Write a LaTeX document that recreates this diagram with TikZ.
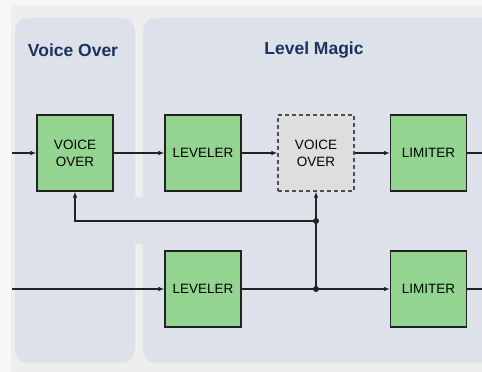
\documentclass[tikz,border=0pt]{standalone}
\usepackage{fontspec}
\setmainfont{Liberation Sans}
\usetikzlibrary{arrows.meta,positioning}
\definecolor{paper}{RGB}{247,247,247}
\definecolor{frame}{RGB}{238,238,238}
\definecolor{panel}{RGB}{221,225,233}
\definecolor{navy}{RGB}{28,50,96}
\definecolor{leaf}{RGB}{147,213,144}
\definecolor{mist}{RGB}{222,222,222}
\definecolor{ink}{RGB}{34,34,34}
\tikzset{
  >={Latex[length=6pt,width=4.5pt]},
  block/.style={draw=ink,fill=#1,line width=1.2pt,minimum width=76pt,minimum height=76pt,
    inner sep=0pt,align=center,font=\fontsize{13.5}{17}\selectfont},
  block/.default=leaf,
  ghost/.style={block=mist,draw=ink!80,dash pattern=on 4pt off 3pt},
  flow/.style={->,line width=1.1pt,draw=ink},
  wire/.style={line width=1.1pt,draw=ink},
  title/.style={font=\fontsize{17.5}{20}\selectfont\bfseries,text=navy},
  dot/.style={circle,fill=ink,inner sep=0pt,minimum size=6pt},
}
\begin{document}
\begin{tikzpicture}[x=1pt,y=-1pt]
  \useasboundingbox (0,0) rectangle (482,372);
  % backdrop and panels
  \fill[paper] (0,0) rectangle (482,372);
  \fill[frame] (11,5) rectangle (482,372);
  \begin{scope}
    \clip (0,0) rectangle (482,372);
    \fill[panel,rounded corners=13pt] (15,18) rectangle (135,363);
    \fill[panel,rounded corners=13pt] (143,18) rectangle (496,363);
    \fill[panel] (130,197) rectangle (148,244);
  \end{scope}
  \node[title] (tvo) at (73,50) {Voice Over};
  \node[title] (tlm) at (314,50) {Level Magic};
  % blocks
  \node[block] (vo) at (75,153) {VOICE\\OVER};
  \node[block] (lev) at (203,153) {LEVELER};
  \node[ghost] (vox) at (316,153) {VOICE\\OVER};
  \node[block] (lim) at (428.5,153) {LIMITER};
  \node[block] (levb) at (203,289) {LEVELER};
  \node[block] (limb) at (428.5,289) {LIMITER};
  \coordinate (in) at (12,153);
  \coordinate (inb) at (12,289);
  \coordinate (out) at (482,153);
  \coordinate (outb) at (482,289);
  \node[dot] (ja) at (316,221) {};
  \node[dot] (jb) at (316,289) {};
  % signal paths
  \draw[flow] (in) -- (vo); \draw[flow] (vo) -- (lev); \draw[flow] (lev) -- (vox);
  \draw[flow] (vox) -- (lim); \draw[wire] (lim) -- (out);
  \draw[flow] (inb) -- (levb); \draw[wire] (levb) -- (jb.center); \draw[flow] (jb.center) -- (limb);
  \draw[wire] (limb) -- (outb);
  \draw[flow] (jb.center) -- (vox);
  \draw[flow] (ja.center) -| (vo);
\end{tikzpicture}
\end{document}
